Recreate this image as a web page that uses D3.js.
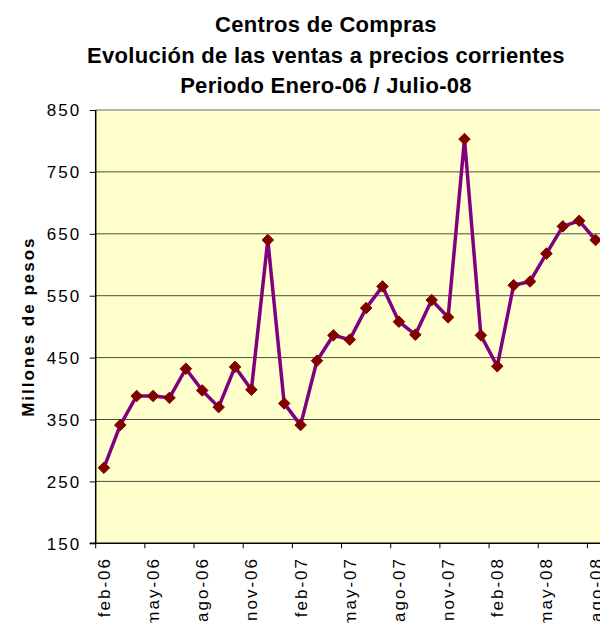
<!DOCTYPE html>
<html><head><meta charset="utf-8">
<script src="https://cdn.jsdelivr.net/npm/d3@7"></script>
<style>body{margin:0;background:#fff} svg{display:block}</style>
</head><body><svg id="c" width="600" height="623"></svg>
<script>
const months = ['feb-06','mar-06','abr-06','may-06','jun-06','jul-06','ago-06','sep-06','oct-06','nov-06','dic-06',
  'ene-07','feb-07','mar-07','abr-07','may-07','jun-07','jul-07','ago-07','sep-07','oct-07','nov-07','dic-07',
  'ene-08','feb-08','mar-08','abr-08','may-08','jun-08','jul-08','ago-08'];
const values = [272,341,388,388,385,432,397,370,435,398,640,376,341,445,486,479,530,565,508,487,543,515,803,486,436,567,573,618,662,671,640];
const tickLabels = ['feb-06','may-06','ago-06','nov-06','feb-07','may-07','ago-07','nov-07','feb-08','may-08','ago-08'];
const yTicks = [150,250,350,450,550,650,750,850];
const titleLines = ['Centros de Compras','Evolución de las ventas a precios corrientes','Periodo Enero-06 / Julio-08'];
const yTitle = 'Millones de pesos';

const FONT = "'Liberation Sans', Arial, sans-serif";
const svg = d3.select('#c');
const L = 95.7, R = 603.8, T = 110, B = 543.3;

const x = d3.scaleBand().domain(months).range([L, R]).padding(0);
const y = d3.scaleLinear().domain([150, 850]).range([B, T]);
const bw = x.bandwidth();

// plot area
svg.append('rect').attr('x', L).attr('y', T).attr('width', R - L).attr('height', B - T).attr('fill', '#FFFFCC');

// gridlines
svg.append('g').selectAll('line').data(yTicks.filter(v => v > 150 && v < 850)).join('line')
  .attr('x1', L).attr('x2', R).attr('y1', d => y(d)).attr('y2', d => y(d))
  .attr('stroke', '#4d4d40').attr('stroke-width', 1);
svg.append('line').attr('x1', L).attr('x2', R).attr('y1', T).attr('y2', T)
  .attr('stroke', '#9a9a9a').attr('stroke-width', 1.5);

// y axis
const gy = svg.append('g').attr('transform', `translate(${L},0)`)
  .call(d3.axisLeft(y).tickValues(yTicks).tickSize(6).tickFormat(d3.format('d')));
gy.select('.domain').remove();
gy.selectAll('line').attr('stroke', '#000');
gy.selectAll('text').attr('x', -14.5).attr('dy', '0.35em')
  .attr('font-family', FONT).attr('font-size', 17).attr('letter-spacing', 2).attr('fill', '#000');

// x axis
const gx = svg.append('g').attr('transform', `translate(0,${B})`)
  .call(d3.axisBottom(x).tickValues(tickLabels).tickSize(5));
gx.select('.domain').remove();
gx.selectAll('.tick line').attr('x1', -bw / 2).attr('x2', -bw / 2).attr('stroke', '#000');
gx.selectAll('.tick text')
  .attr('x', 0).attr('y', 0).attr('dy', null)
  .attr('transform', `translate(6,${557 - B}) rotate(-90)`)
  .attr('text-anchor', 'end')
  .attr('font-family', FONT).attr('font-size', 17).attr('letter-spacing', 2).attr('fill', '#000');

// axis lines
svg.append('line').attr('x1', L).attr('x2', L).attr('y1', T).attr('y2', B).attr('stroke', '#000').attr('stroke-width', 1.5);
svg.append('line').attr('x1', L - 6).attr('x2', R).attr('y1', B).attr('y2', B).attr('stroke', '#000').attr('stroke-width', 1.5);

// series line
const line = d3.line().x((d, i) => x(months[i]) + bw / 2).y(d => y(d));
svg.append('path').datum(values).attr('d', line)
  .attr('fill', 'none').attr('stroke', '#800080').attr('stroke-width', 3.5).attr('stroke-linejoin', 'round');

// markers
const sym = d3.symbol().type(d3.symbolDiamond2).size(85);
svg.append('g').selectAll('path').data(values).join('path')
  .attr('transform', (d, i) => `translate(${x(months[i]) + bw / 2},${y(d)})`)
  .attr('d', sym).attr('fill', '#800000').attr('stroke', '#800000').attr('stroke-width', 1);

// titles
svg.append('g').selectAll('text').data(titleLines).join('text')
  .attr('x', 326).attr('y', (d, i) => 32 + i * 30.5)
  .attr('text-anchor', 'middle').attr('font-family', FONT).attr('font-weight', 'bold')
  .attr('font-size', 22).attr('letter-spacing', 0.3).attr('fill', '#000').text(d => d);

svg.append('text').attr('transform', `translate(34,${(T + B) / 2}) rotate(-90)`)
  .attr('text-anchor', 'middle').attr('font-family', FONT).attr('font-weight', 'bold')
  .attr('font-size', 17).attr('letter-spacing', 2).attr('fill', '#000').text(yTitle);
</script></body></html>
